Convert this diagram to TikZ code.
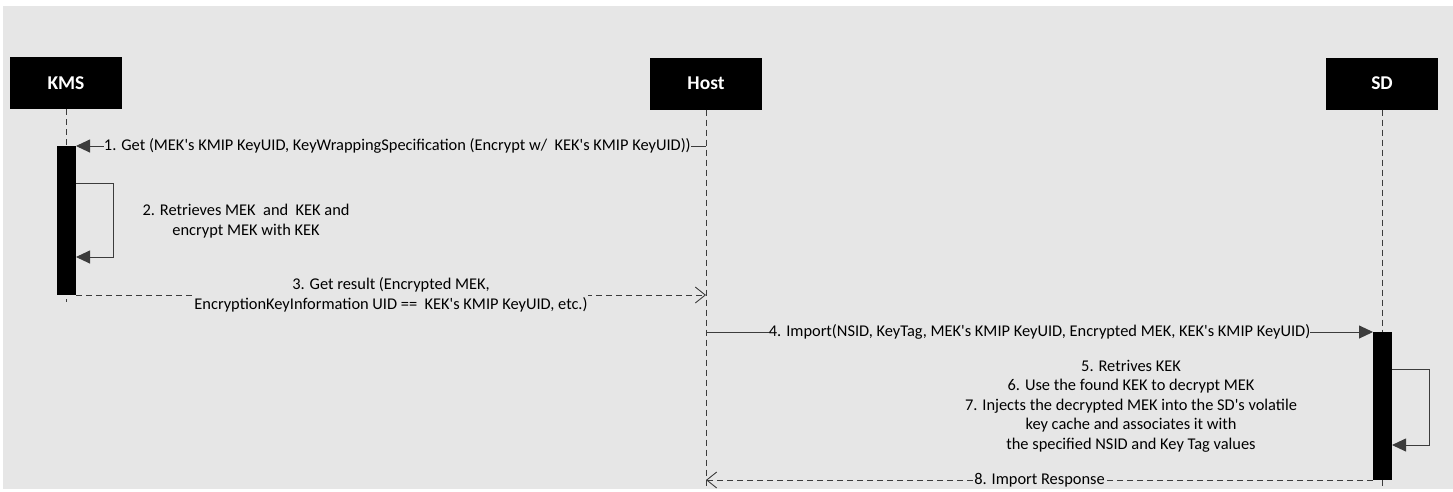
\documentclass[tikz,border=0pt]{standalone}
\usepackage{fontspec}
\setmainfont{Carlito}
\usetikzlibrary{arrows.meta}
\definecolor{bg}{HTML}{E6E6E6}
\definecolor{ln}{HTML}{3C3C3C}
\newcommand{\sq}{\textquotesingle}

\begin{document}
\begin{tikzpicture}[x=1pt,y=-1pt,
  actor/.style={fill=black, text=white, font=\bfseries\fontsize{19.5}{22}\selectfont,
    minimum width=112pt, minimum height=52pt, inner sep=0pt},
  lifeline/.style={draw=ln, line width=0.8pt, dash pattern=on 6pt off 4pt},
  act/.style={fill=black, minimum width=19pt, inner sep=0pt, outer sep=0pt, anchor=north},
  call/.style={draw=ln, line width=0.9pt, -{Triangle[length=14pt,width=13pt]}},
  reply/.style={draw=ln, line width=0.9pt, dash pattern=on 6pt off 4pt,
    -{Straight Barb[length=10pt,width=16pt]}},
  msg/.style={fill=bg, text=black, font=\fontsize{16.4}{20}\selectfont,
    inner xsep=0pt, inner ysep=1pt, align=center},
  note/.style={text=black, font=\fontsize{16.4}{19.6}\selectfont, inner sep=1pt, align=center}
]
\useasboundingbox (0,0) rectangle (1453,491);
\fill[bg] (3,6) rectangle (1453,489);

% participants
\node[actor] (kms)  at (66,83)  {KMS};
\node[actor] (host) at (706,83.5) {Host};
\node[actor] (sd)   at (1382,83.5) {SD};

% lifeline ends
\coordinate (kmsend)  at (66,302);
\coordinate (hostend) at (706,489);
\coordinate (sdend)   at (1382,489);

\draw[lifeline] (kms.south)  -- (kmsend);
\draw[lifeline] (host.south) -- (hostend);
\draw[lifeline] (sd.south)   -- (sdend);

% activation bars
\node[act, minimum height=149pt] (kmsact) at (66.5,146) {};
\node[act, minimum height=148pt] (sdact)  at (1382.5,332) {};

% points on the host lifeline
\coordinate (h1) at (706,146);
\coordinate (h3) at (706,295);
\coordinate (h4) at (706,332);
\coordinate (h8) at (706,480);

% 1. request to the KMS
\draw[call] (h1) -- (kmsact.north east)
  node[msg, pos=0.49] {1. Get (MEK\sq s KMIP KeyUID, KeyWrappingSpecification (Encrypt w/~ KEK\sq s KMIP KeyUID))};

% 2. KMS self call
\coordinate (k2a) at (76,183);
\coordinate (k2b) at (76,257);
\draw[call] (k2a) -- (113,183) -- (113,257) -- (k2b);
\node[note] (n2) at (246,221) {2. Retrieves MEK~ and~ KEK and\\encrypt MEK with KEK};

% 3. reply to the host
\draw[reply] (kmsact.south east) -- (h3)
  node[msg, midway] {3. Get result (Encrypted MEK,\\EncryptionKeyInformation UID ==~ KEK\sq s KMIP KeyUID, etc.)};

% 4. import to the SD
\draw[call] (h4) -- (sdact.north west)
  node[msg, midway] {4. Import(NSID, KeyTag, MEK\sq s KMIP KeyUID, Encrypted MEK, KEK\sq s KMIP KeyUID)};

% 5-7. SD self call
\coordinate (s5a) at (1392,369);
\coordinate (s5b) at (1392,445);
\draw[call] (s5a) -- (1429,369) -- (1429,445) -- (s5b);
\node[note] (n5) at (1131,406) {5. Retrives KEK\\6. Use the found KEK to decrypt MEK\\7. Injects the decrypted MEK into the SD\sq s volatile\\key cache and associates it with\\the specified NSID and Key Tag values};

% 8. response to the host
\draw[reply] (sdact.south west) -- (h8)
  node[msg, midway] {8. Import Response};
\end{tikzpicture}
\end{document}
